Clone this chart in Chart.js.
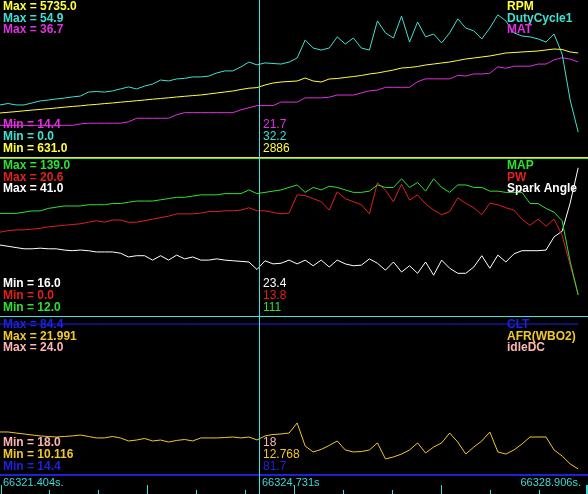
<!DOCTYPE html>
<html>
<head>
<meta charset="utf-8">
<script src="https://cdn.jsdelivr.net/npm/chart.js@4.4.1/dist/chart.umd.min.js"></script>
<style>
  html, body { margin: 0; padding: 0; background: #000; }
  canvas { display: block; }
</style>
</head>
<body>
<canvas id="logChart" width="588" height="494"></canvas>
<script>
// log samples (seconds)
const times = [
  66321.404, 66321.507, 66321.610, 66321.713, 66321.817, 66321.920, 66322.023, 66322.126, 66322.229, 66322.332,
  66322.436, 66322.539, 66322.642, 66322.745, 66322.848, 66322.951, 66323.054, 66323.158, 66323.261, 66323.364,
  66323.467, 66323.570, 66323.673, 66323.776, 66323.880, 66323.983, 66324.086, 66324.189, 66324.292, 66324.395,
  66324.499, 66324.602, 66324.705, 66324.808, 66324.911, 66325.014, 66325.117, 66325.221, 66325.324, 66325.427,
  66325.530, 66325.633, 66325.736, 66325.839, 66325.943, 66326.046, 66326.149, 66326.252, 66326.355, 66326.458,
  66326.562, 66326.665, 66326.768, 66326.871, 66326.974, 66327.077, 66327.180, 66327.284, 66327.387, 66327.490,
  66327.593, 66327.696, 66327.799, 66327.902, 66328.006, 66328.109, 66328.212, 66328.315, 66328.418, 66328.521,
  66328.625, 66328.728, 66328.831
];

const rpm = [
  2061, 2084, 2107, 2133, 2156, 2178, 2201, 2224, 2250, 2273,
  2295, 2322, 2341, 2367, 2387, 2413, 2435, 2461, 2484, 2510,
  2533, 2556, 2582, 2604, 2627, 2647, 2679, 2712, 2744, 2777,
  2825, 2868, 2886, 2972, 3037, 3069, 3086, 3102, 3199, 3102,
  3069, 3167, 3183, 3216, 3248, 3281, 3329, 3362, 3411, 3459,
  3524, 3541, 3573, 3622, 3654, 3687, 3719, 3768, 3817, 3849,
  3882, 3915, 3963, 4012, 4028, 4045, 4061, 4077, 4110, 4142,
  4126, 4045, 4012
];

const dutyCycle1 = [
  18.2, 18.7, 18.2, 18.2, 18.9, 19.6, 19.9, 20.3, 20.6, 21.0,
  21.3, 22.7, 22.9, 22.7, 23.1, 23.8, 24.5, 23.8, 24.8, 25.5,
  26.9, 26.6, 27.3, 27.5, 28.0, 28.0, 28.3, 29.4, 30.1, 30.1,
  31.5, 33.2, 32.2, 32.9, 32.7, 32.5, 33.2, 34.6, 40.9, 38.1,
  37.4, 38.1, 42.0, 39.5, 41.6, 38.1, 37.4, 47.6, 43.4, 41.6,
  49.3, 40.2, 47.2, 42.0, 43.0, 39.9, 43.4, 48.3, 45.1, 44.1,
  41.3, 45.1, 49.7, 47.6, 43.4, 42.3, 42.0, 41.3, 40.2, 43.0,
  36.0, 19.9, 8.7
];

const mat = [
  18.9, 18.9, 18.9, 18.9, 18.9, 18.9, 18.9, 18.9, 18.9, 18.9,
  19.1, 19.2, 19.2, 19.2, 19.2, 19.2, 19.4, 19.9, 19.9, 19.9,
  19.9, 19.9, 20.4, 20.7, 20.7, 20.7, 20.7, 20.7, 20.7, 20.7,
  21.1, 21.4, 21.7, 21.7, 21.7, 22.2, 22.2, 22.2, 22.8, 22.8,
  22.8, 22.9, 23.2, 23.2, 23.2, 23.5, 23.8, 23.9, 24.3, 24.3,
  24.3, 24.3, 25.1, 25.5, 25.5, 25.5, 25.5, 26.0, 25.9, 26.2,
  26.2, 26.3, 27.2, 27.0, 27.3, 27.3, 27.3, 27.6, 27.6, 28.2,
  28.5, 28.3, 27.9
];

const mapKpa = [
  95, 95, 95, 96, 97, 97, 99, 100, 101, 101,
  101, 102, 102, 102, 103, 103, 104, 105, 105, 105,
  106, 107, 108, 108, 109, 110, 110, 110, 111, 111,
  111, 114, 111, 112, 113, 114, 116, 118, 112, 116,
  114, 117, 116, 114, 112, 112, 113, 118, 116, 116,
  123, 116, 120, 113, 123, 116, 112, 118, 118, 116,
  116, 113, 113, 112, 112, 112, 103, 103, 99, 96,
  89, 56, 29
];

const pw = [
  11.0, 11.2, 11.3, 11.3, 11.4, 11.5, 11.7, 11.8, 11.9, 12.0,
  12.1, 12.3, 12.5, 12.3, 12.6, 12.6, 12.3, 12.3, 12.5, 12.7,
  12.9, 13.1, 13.4, 13.4, 13.4, 13.5, 13.7, 13.7, 13.8, 13.8,
  13.9, 14.2, 13.8, 13.8, 13.6, 13.4, 13.5, 15.9, 15.8, 15.4,
  15.0, 13.9, 16.3, 15.4, 15.0, 14.6, 13.4, 17.5, 16.5, 15.0,
  17.3, 15.2, 15.9, 14.7, 13.9, 13.3, 13.7, 15.5, 14.8, 14.2,
  13.3, 14.8, 14.6, 14.2, 13.9, 12.7, 11.9, 12.7, 11.8, 12.7,
  10.6, 6.7, 2.8
];

const sparkAngle = [
  27.3, 27.1, 26.9, 26.7, 26.7, 26.8, 26.7, 26.7, 26.5, 26.4,
  26.5, 26.4, 26.2, 26.2, 26.2, 26.0, 25.4, 25.6, 25.6, 24.9,
  25.6, 24.9, 25.7, 25.1, 25.4, 24.9, 24.9, 25.1, 24.9, 24.8,
  24.7, 24.6, 23.4, 24.8, 24.3, 24.4, 24.9, 24.3, 24.9, 24.0,
  24.9, 23.8, 24.9, 24.3, 24.0, 24.1, 25.1, 24.4, 23.3, 24.6,
  23.0, 24.0, 22.8, 24.6, 22.5, 24.9, 23.6, 22.8, 22.8, 23.8,
  25.6, 23.6, 25.7, 24.6, 25.9, 26.4, 26.4, 26.4, 26.5, 28.6,
  29.5, 34.0, 39.6
];

const clt = [
  81.7, 81.7, 81.7, 81.7, 81.7, 81.7, 81.7, 81.7, 81.7, 81.7,
  81.7, 81.7, 81.7, 81.7, 81.7, 81.7, 81.7, 81.7, 81.7, 81.7,
  81.7, 81.7, 81.7, 81.7, 81.7, 81.7, 81.7, 81.7, 81.7, 81.7,
  81.7, 81.7, 81.7, 81.7, 81.7, 81.7, 81.7, 81.7, 81.7, 81.7,
  81.7, 81.7, 81.7, 81.7, 81.7, 81.7, 81.7, 81.7, 81.7, 81.7,
  81.7, 81.7, 81.7, 81.7, 81.7, 81.7, 81.7, 81.7, 81.7, 81.7,
  81.7, 81.7, 81.7, 81.7, 81.7, 81.7, 81.7, 81.7, 81.7, 81.7,
  81.7, 81.7, 81.7
];

const afr = [
  13.37, 13.37, 13.29, 13.22, 13.14, 13.07, 13.03, 12.99, 13.03, 13.07,
  13.14, 13.03, 12.92, 12.92, 13.03, 12.92, 12.69, 12.76, 12.88, 12.69,
  12.76, 12.61, 12.73, 12.80, 12.69, 12.92, 12.92, 12.92, 12.95, 12.99,
  12.92, 12.99, 12.768, 13.07, 13.18, 13.22, 13.29, 14.05, 12.31, 11.86,
  12.05, 12.35, 12.69, 12.01, 11.86, 11.89, 12.01, 12.54, 11.33, 11.48,
  11.70, 12.01, 12.54, 11.78, 12.23, 12.54, 13.29, 12.61, 11.70, 12.23,
  12.69, 13.37, 11.86, 11.70, 12.01, 12.46, 12.99, 12.99, 12.99, 12.01,
  11.55, 10.95, 10.57
];

const idleDC = [
  18, 18, 18, 18, 18, 18, 18, 18, 18, 18,
  18, 18, 18, 18, 18, 18, 18, 18, 18, 18,
  18, 18, 18, 18, 18, 18, 18, 18, 18, 18,
  18, 18, 18, 18, 18, 18, 18, 18, 18, 18,
  18, 18, 18, 18, 18, 18, 18, 18, 18, 18,
  18, 18, 18, 18, 18, 18, 18, 18, 18, 18,
  18, 18, 18, 18, 18, 18, 18, 18, 18, 18,
  18, 18, 18
];

const seriesNames = ['RPM', 'DutyCycle1', 'MAT', 'MAP', 'PW', 'Spark Angle', 'CLT', 'AFR(WBO2)', 'idleDC'];
const seriesData = [rpm, dutyCycle1, mat, mapKpa, pw, sparkAngle, clt, afr, idleDC];
const seriesMin = [631.0, 0.0, 14.4, 12.0, 0.0, 16.0, 14.4, 10.116, 18.0];
const seriesMax = [5735.0, 54.9, 36.7, 139.0, 20.6, 41.0, 84.4, 21.991, 24.0];
const rangeDecimals = [1, 1, 1, 1, 1, 1, 1, 3, 1];
const cursorDecimals = [0, 1, 1, 0, 1, 1, 1, 3, 0];

const viewStart = 66321.404;
const viewEnd = 66328.957;
const cursorTime = 66324.731;
const cursorIndex = 32;
const timeLabels = ['66321.404s.', '66324.731s', '66328.906s.'];

// styles / layout
const seriesColors = ['#ffff3c', '#40e0d0', '#e030e0', '#30e030', '#e02020', '#ffffff', '#2020e0', '#f0c828', '#ffb4b4'];
const seriesPanel = [0, 0, 0, 1, 1, 1, 2, 2, 2];
const panelRows = [[0, 157], [159, 316], [318, 475]];
const plotBottom = 475;
const axisColor = '#40d8d8';
const boldFont = 'bold 12px "Liberation Sans", Arial, sans-serif';
const plainFont = '12px "Liberation Sans", Arial, sans-serif';
const axisFont = '11px "Liberation Sans", Arial, sans-serif';

function panelScale(s) {
    const [top, bottom] = panelRows[seriesPanel[s]];
    const r = (seriesMax[s] - seriesMin[s]) / (bottom - top);
    return {
        type: 'linear',
        display: false,
        min: seriesMin[s] - (plotBottom - bottom) * r,
        max: seriesMax[s] + top * r
    };
}

const scales = {
    x: { type: 'linear', display: false, min: viewStart, max: viewEnd }
};
const datasets = [];
seriesNames.forEach((name, s) => {
    scales['y' + s] = panelScale(s);
    datasets.push({
        label: name,
        data: seriesData[s].map((v, i) => ({ x: times[i], y: v })),
        yAxisID: 'y' + s,
        borderColor: seriesColors[s],
        borderWidth: 1,
        pointRadius: 0,
        tension: 0,
        fill: false
    });
});

const overlay = {
    id: 'overlay',
    afterDatasetsDraw(chart) {
        const ctx = chart.ctx;
        const xScale = chart.scales.x;
        ctx.save();

        // panel borders
        ctx.fillStyle = '#e8e83a'; ctx.fillRect(0, 157, 588, 1);
        ctx.fillStyle = '#40e040'; ctx.fillRect(0, 158, 588, 1);
        ctx.fillStyle = '#40e0e0'; ctx.fillRect(0, 316, 588, 1);
        ctx.fillStyle = '#2020d8'; ctx.fillRect(0, 474, 588, 2);

        // cursor
        const cx = Math.round(xScale.getPixelForValue(cursorTime));
        ctx.fillStyle = '#40e0e0';
        ctx.fillRect(cx, 0, 1, 494);

        ctx.textBaseline = 'middle';
        panelRows.forEach(([top, bottom], p) => {
            const members = seriesNames.map((n, s) => s).filter(s => seriesPanel[s] === p);
            const topRows = [top + 7, top + 18.5, top + 30];
            const lowRows = [bottom - 8.5, bottom - 20.5, bottom - 32.5];
            members.forEach((s, k) => {
                ctx.fillStyle = seriesColors[s];
                ctx.font = boldFont;
                ctx.textAlign = 'left';
                ctx.fillText('Max = ' + seriesMax[s].toFixed(rangeDecimals[s]), 3, topRows[k]);
                ctx.fillText(seriesNames[s], 507, topRows[k]);
                ctx.fillText('Min = ' + seriesMin[s].toFixed(rangeDecimals[s]), 3, lowRows[k]);
                ctx.font = plainFont;
                ctx.fillText(seriesData[s][cursorIndex].toFixed(cursorDecimals[s]), cx + 4, lowRows[k]);
            });
        });

        // time axis
        ctx.fillStyle = axisColor;
        for (let k = 0; k <= 12; k++) {
            const t = viewStart + (viewEnd - viewStart) * k / 12;
            const px = Math.min(586, Math.max(1, Math.round(xScale.getPixelForValue(t))));
            const h = k % 3 === 0 ? 9 : 4;
            ctx.fillRect(px, 494 - h, k === 12 ? 2 : 1, h);
        }
        ctx.font = axisFont;
        ctx.textAlign = 'left';
        ctx.fillText(timeLabels[0], 3, 483);
        ctx.fillText(timeLabels[1], cx + 3, 483);
        ctx.textAlign = 'right';
        ctx.fillText(timeLabels[2], 581, 483);

        ctx.restore();
    }
};

new Chart(document.getElementById('logChart'), {
    type: 'line',
    data: { datasets: datasets },
    options: {
        responsive: false,
        animation: false,
        devicePixelRatio: 1,
        events: [],
        layout: { padding: { left: 0, right: 0, top: 0, bottom: 19 } },
        plugins: {
            legend: { display: false },
            tooltip: { enabled: false }
        },
        scales: scales
    },
    plugins: [overlay]
});
</script>
</body>
</html>
